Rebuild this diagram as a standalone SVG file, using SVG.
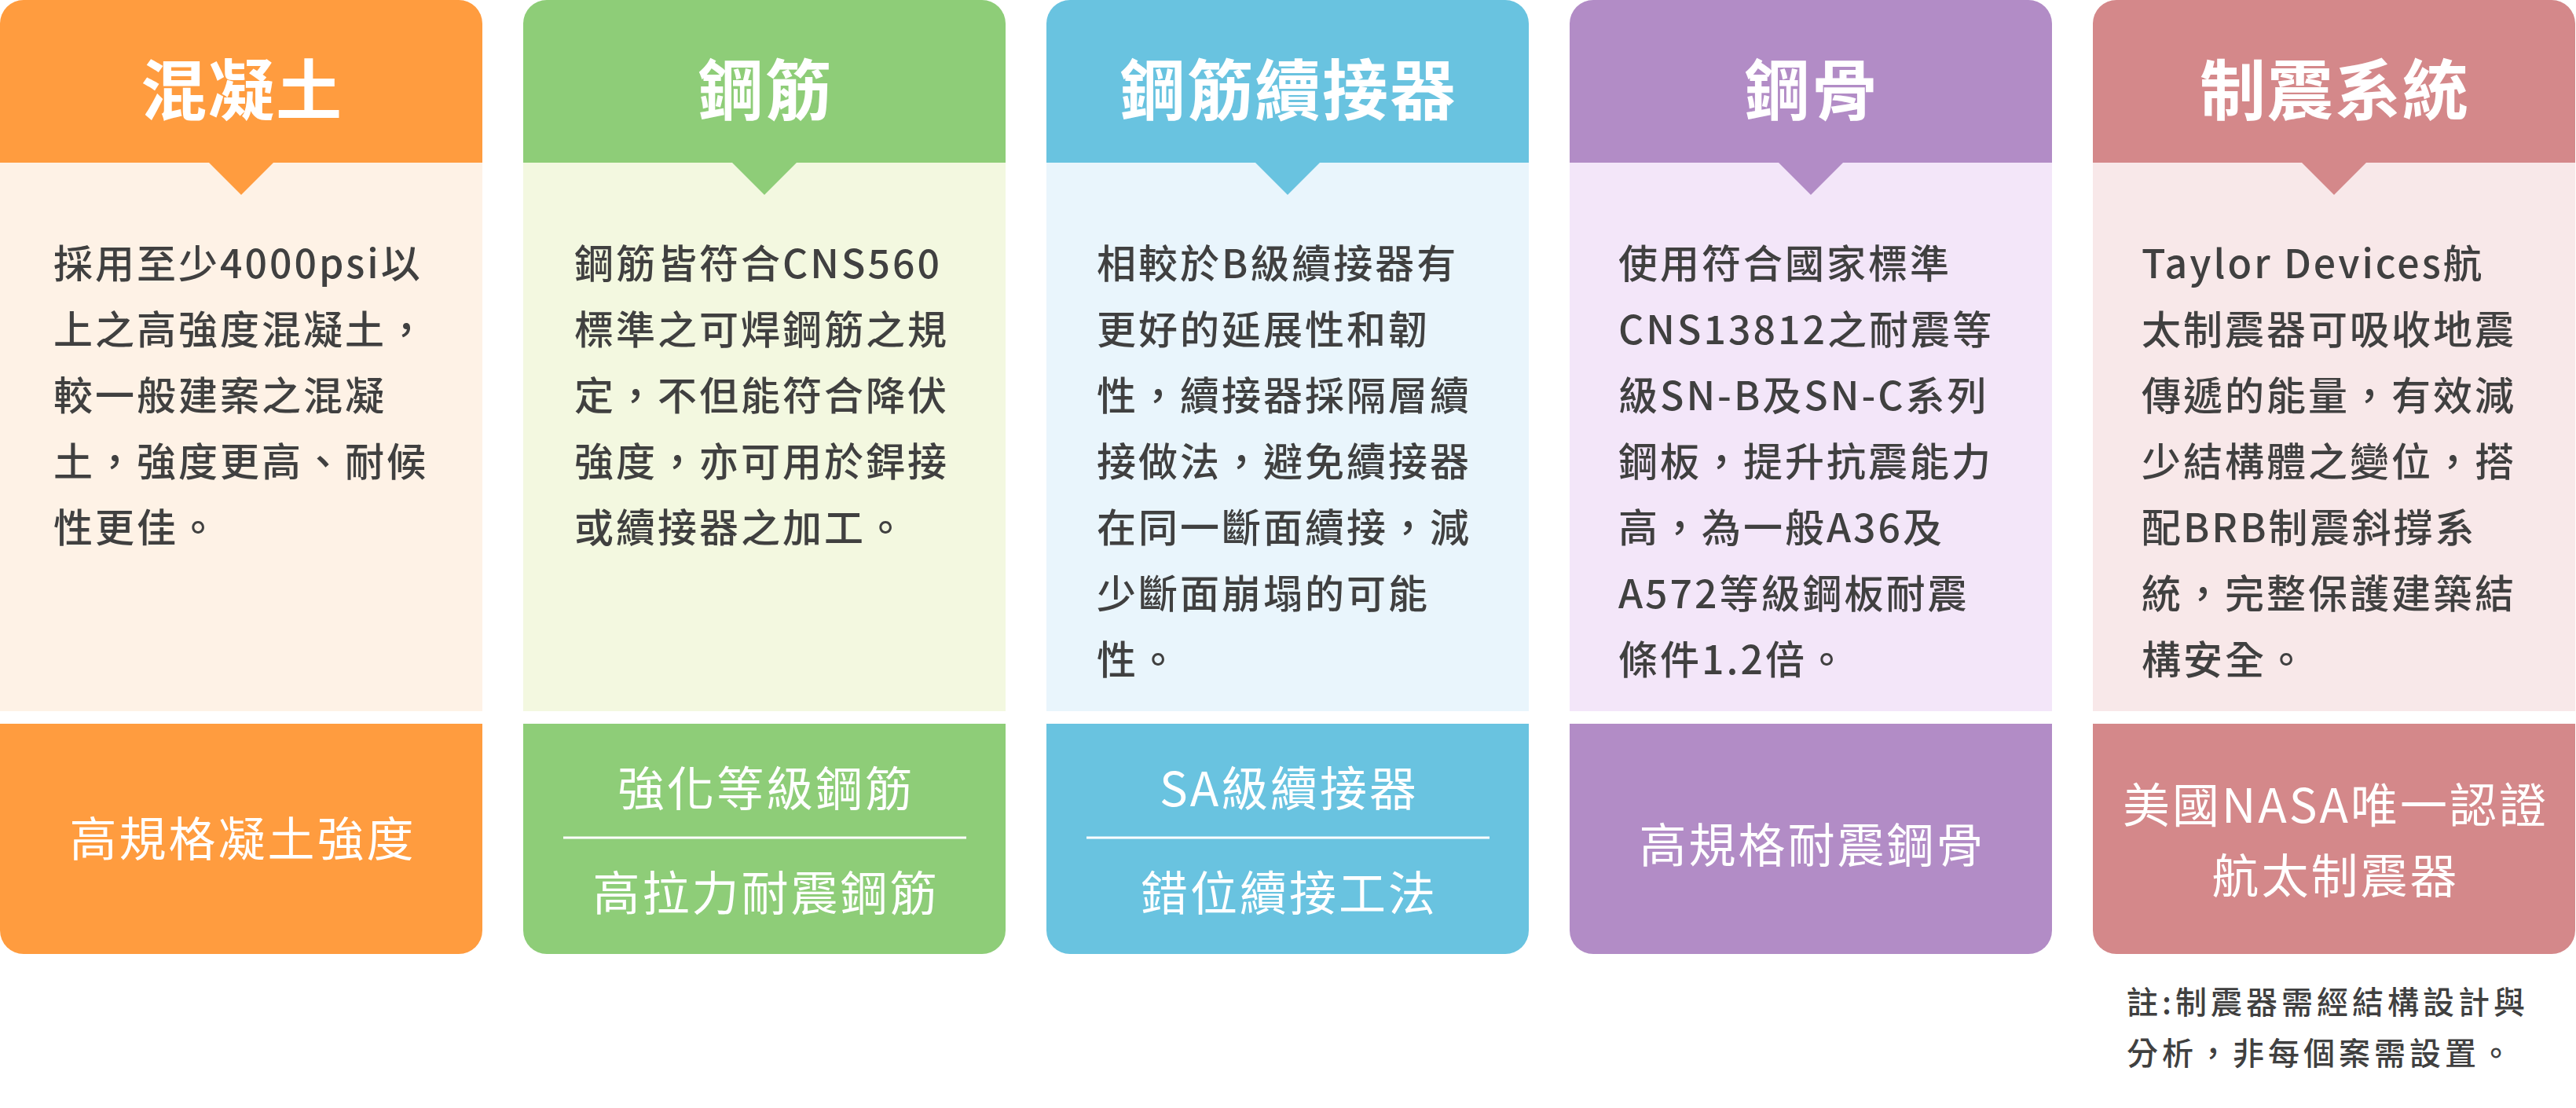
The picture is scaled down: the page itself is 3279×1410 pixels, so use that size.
<svg xmlns="http://www.w3.org/2000/svg" xmlns:xlink="http://www.w3.org/1999/xlink" width="3279" height="1410" viewBox="0 0 3279 1410">
<style>
text{font-family:"Noto Sans CJK TC","Noto Sans CJK SC","Noto Sans CJK JP",sans-serif}
.title{font-size:84px;font-weight:700;fill:#ffffff;text-anchor:middle;letter-spacing:2px}
.body{font-size:50px;font-weight:500;fill:#404040;letter-spacing:3px}
.foot{font-size:60px;font-weight:400;fill:#ffffff;text-anchor:middle;letter-spacing:3px}
.note{font-size:40px;font-weight:500;fill:#404040;letter-spacing:5px}
.div{stroke:#ffffff;stroke-width:3}
.c1h{fill:#FF9C3F}.c1l{fill:#FEF2E6}
.c2h{fill:#8ECD78}.c2l{fill:#F3F8E0}
.c3h{fill:#69C3E0}.c3l{fill:#E9F5FC}
.c4h{fill:#B28CC6}.c4l{fill:#F3E6F9}
.c5h{fill:#D4888A}.c5l{fill:#F8E8E9}
</style>
<defs>
<path id="hdr" d="M0,207 V30 A30,30 0 0 1 30,0 H584 A30,30 0 0 1 614,30 V207 Z"/>
<rect id="bdy" x="0" y="207" width="614" height="698"/>
<path id="tri" d="M265,206 H349 L307,248 Z"/>
<path id="ftr" d="M0,921 H614 V1184 A30,30 0 0 1 584,1214 H30 A30,30 0 0 1 0,1184 Z"/>
</defs>

<g id="col-concrete" transform="translate(0,0)">
<use xlink:href="#bdy" class="c1l"/>
<use xlink:href="#hdr" class="c1h"/>
<use xlink:href="#tri" class="c1h"/>
<use xlink:href="#ftr" class="c1h"/>
<text class="title" x="308" y="146">混凝土</text>
<text class="body"><tspan x="68" y="354">採用至少4000psi以</tspan><tspan x="68" y="438">上之高強度混凝土，</tspan><tspan x="68" y="522">較一般建案之混凝</tspan><tspan x="68" y="606">土，強度更高、耐候</tspan><tspan x="68" y="690">性更佳。</tspan></text>
<text class="foot" x="309" y="1090">高規格凝土強度</text>
</g>

<g id="col-rebar" transform="translate(666,0)">
<use xlink:href="#bdy" class="c2l"/>
<use xlink:href="#hdr" class="c2h"/>
<use xlink:href="#tri" class="c2h"/>
<use xlink:href="#ftr" class="c2h"/>
<text class="title" x="308" y="146">鋼筋</text>
<text class="body"><tspan x="65" y="354">鋼筋皆符合CNS560</tspan><tspan x="65" y="438">標準之可焊鋼筋之規</tspan><tspan x="65" y="522">定，不但能符合降伏</tspan><tspan x="65" y="606">強度，亦可用於銲接</tspan><tspan x="65" y="690">或續接器之加工。</tspan></text>
<text class="foot" x="309" y="1026">強化等級鋼筋</text>
<line class="div" x1="51" y1="1066" x2="564" y2="1066"/>
<text class="foot" x="309" y="1159">高拉力耐震鋼筋</text>
</g>

<g id="col-coupler" transform="translate(1332,0)">
<use xlink:href="#bdy" class="c3l"/>
<use xlink:href="#hdr" class="c3h"/>
<use xlink:href="#tri" class="c3h"/>
<use xlink:href="#ftr" class="c3h"/>
<text class="title" x="308" y="146">鋼筋續接器</text>
<text class="body"><tspan x="64" y="354">相較於B級續接器有</tspan><tspan x="64" y="438">更好的延展性和韌</tspan><tspan x="64" y="522">性，續接器採隔層續</tspan><tspan x="64" y="606">接做法，避免續接器</tspan><tspan x="64" y="690">在同一斷面續接，減</tspan><tspan x="64" y="774">少斷面崩塌的可能</tspan><tspan x="64" y="858">性。</tspan></text>
<text class="foot" x="309" y="1026">SA級續接器</text>
<line class="div" x1="51" y1="1066" x2="564" y2="1066"/>
<text class="foot" x="309" y="1159">錯位續接工法</text>
</g>

<g id="col-steel" transform="translate(1998,0)">
<use xlink:href="#bdy" class="c4l"/>
<use xlink:href="#hdr" class="c4h"/>
<use xlink:href="#tri" class="c4h"/>
<use xlink:href="#ftr" class="c4h"/>
<text class="title" x="308" y="146">鋼骨</text>
<text class="body"><tspan x="62" y="354">使用符合國家標準</tspan><tspan x="62" y="438">CNS13812之耐震等</tspan><tspan x="62" y="522">級SN-B及SN-C系列</tspan><tspan x="62" y="606">鋼板，提升抗震能力</tspan><tspan x="62" y="690">高，為一般A36及</tspan><tspan x="62" y="774">A572等級鋼板耐震</tspan><tspan x="62" y="858">條件1.2倍。</tspan></text>
<text class="foot" x="309" y="1098">高規格耐震鋼骨</text>
</g>

<g id="col-damper" transform="translate(2664,0)">
<use xlink:href="#bdy" class="c5l"/>
<use xlink:href="#hdr" class="c5h"/>
<use xlink:href="#tri" class="c5h"/>
<use xlink:href="#ftr" class="c5h"/>
<text class="title" x="308" y="146">制震系統</text>
<text class="body"><tspan x="62" y="354">Taylor Devices航</tspan><tspan x="62" y="438">太制震器可吸收地震</tspan><tspan x="62" y="522">傳遞的能量，有效減</tspan><tspan x="62" y="606">少結構體之變位，搭</tspan><tspan x="62" y="690">配BRB制震斜撐系</tspan><tspan x="62" y="774">統，完整保護建築結</tspan><tspan x="62" y="858">構安全。</tspan></text>
<text class="foot" x="309" y="1047">美國NASA唯一認證</text>
<text class="foot" x="309" y="1137">航太制震器</text>
</g>

<g id="note">
<text class="note"><tspan x="2707" y="1290">註:制震器需經結構設計與</tspan><tspan x="2707" y="1355">分析，非每個案需設置。</tspan></text>
</g>

<g id="connectors"></g>
</svg>
